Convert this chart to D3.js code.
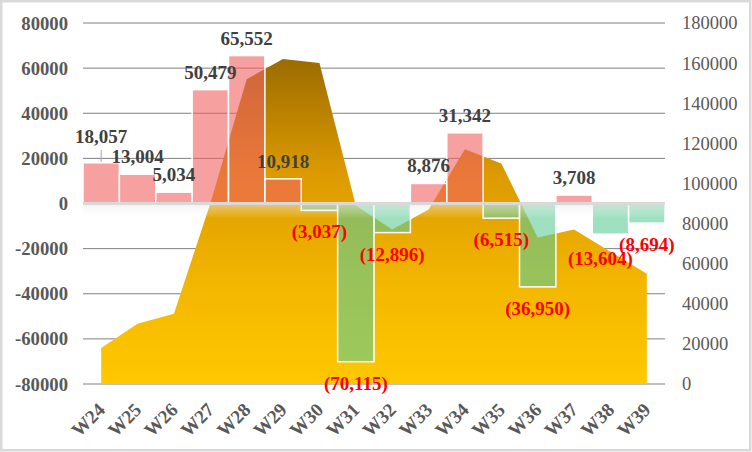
<!DOCTYPE html>
<html>
<head>
<meta charset="utf-8">
<script src="https://d3js.org/d3.v7.min.js"></script>
<style>
  body { margin: 0; background: #fff; }
  text { font-family: "Times New Roman", "Liberation Serif", serif; }
</style>
</head>
<body>
<div id="my_dataviz"></div>
<script>

// weeks on the x axis
var weeks = ["W24","W25","W26","W27","W28","W29","W30","W31","W32","W33","W34","W35","W36","W37","W38","W39"];
// weekly change (bars, left axis)
var changes = [18057, 13004, 5034, 50479, 65552, 10918, -3037, -70115, -12896, 8876, 31342, -6515, -36950, 3708, -13604, -8694];
// running total (area, right axis)
var totals = [18000, 30000, 35000, 90000, 152000, 162000, 160000, 89000, 77000, 87000, 117000, 110000, 73000, 77000, 66000, 55000];
// tick labels
var leftTicks = [-80000, -60000, -40000, -20000, 0, 20000, 40000, 60000, 80000];
var rightTicks = [0, 20000, 40000, 60000, 80000, 100000, 120000, 140000, 160000, 180000];

var W = 752, H = 452;
var margin = {top: 23, right: 87, bottom: 68, left: 83},
  width = W - margin.left - margin.right,
  height = H - margin.top - margin.bottom;

var root = d3.select("#my_dataviz")
  .append("svg")
  .attr("width", W)
  .attr("height", H);

// outer frame
root.append("rect")
  .attr("x", 1.25).attr("y", 1.25)
  .attr("width", W - 3).attr("height", H - 3)
  .attr("fill", "#fff")
  .attr("stroke", "#d9d9d9")
  .attr("stroke-width", 2.5);

var defs = root.append("defs");

// gold gradient of the area
var grad = defs.append("linearGradient")
  .attr("id", "areaGrad")
  .attr("x1", 0).attr("y1", 0).attr("x2", 0).attr("y2", 1);
grad.append("stop").attr("offset", "0%").attr("stop-color", "#9c6c00");
grad.append("stop").attr("offset", "35%").attr("stop-color", "#dc9a00");
grad.append("stop").attr("offset", "70%").attr("stop-color", "#f3b700");
grad.append("stop").attr("offset", "100%").attr("stop-color", "#ffc800");

// soft shadow under the zero line
var shade = defs.append("linearGradient")
  .attr("id", "shadeGrad")
  .attr("x1", 0).attr("y1", 0).attr("x2", 0).attr("y2", 1);
shade.append("stop").attr("offset", "0%").attr("stop-color", "#e6e6e6").attr("stop-opacity", 0.5);
shade.append("stop").attr("offset", "100%").attr("stop-color", "#ffffff").attr("stop-opacity", 0);

var svg = root.append("g")
  .attr("transform", "translate(" + margin.left + "," + margin.top + ")");

// scales
var x = d3.scaleBand()
  .domain(weeks)
  .range([0, width])
  .padding(0);

var y = d3.scaleLinear()
  .domain([-80000, 80000])
  .range([height, 0]);

var y2 = d3.scaleLinear()
  .domain([0, 180000])
  .range([height, 0]);

// gridlines (left axis)
svg.append("g")
  .selectAll("line")
  .data(leftTicks.filter(function(d) { return d != 0; }))
  .enter()
  .append("line")
  .attr("x1", 0).attr("x2", width)
  .attr("y1", function(d) { return y(d); })
  .attr("y2", function(d) { return y(d); })
  .attr("stroke", "#808080")
  .attr("stroke-width", 1);

// area
var area = d3.area()
  .x(function(d, i) { return x(weeks[i]) + x.bandwidth() / 2; })
  .y0(height)
  .y1(function(d) { return y2(d); });

svg.append("path")
  .datum(totals)
  .attr("d", area)
  .attr("fill", "url(#areaGrad)");

// bars
svg.selectAll(".bar")
  .data(changes)
  .enter()
  .append("rect")
  .attr("class", "bar")
  .attr("x", function(d, i) { return x(weeks[i]); })
  .attr("y", function(d) { return y(Math.max(0, d)); })
  .attr("width", x.bandwidth())
  .attr("height", function(d) { return Math.abs(y(d) - y(0)); })
  .attr("fill", function(d) { return d >= 0 ? "rgb(242,97,97)" : "rgb(93,203,150)"; })
  .attr("fill-opacity", 0.6)
  .attr("stroke", "#fff")
  .attr("stroke-width", 1.5);

// zero line + shadow
svg.append("rect")
  .attr("x", 0).attr("y", y(0) + 1)
  .attr("width", width).attr("height", 14)
  .attr("fill", "url(#shadeGrad)");

svg.append("line")
  .attr("x1", 0).attr("x2", width)
  .attr("y1", y(0)).attr("y2", y(0))
  .attr("stroke", "#d9d9d9")
  .attr("stroke-width", 3);

// left axis labels
svg.append("g")
  .selectAll("text")
  .data(leftTicks)
  .enter()
  .append("text")
  .attr("x", -15)
  .attr("y", function(d) { return y(d); })
  .attr("dy", "0.35em")
  .attr("text-anchor", "end")
  .attr("font-size", "18.7px")
  .attr("font-weight", "bold")
  .attr("fill", "#595959")
  .text(function(d) { return d; });

// right axis labels
svg.append("g")
  .selectAll("text")
  .data(rightTicks)
  .enter()
  .append("text")
  .attr("x", width + 17)
  .attr("y", function(d) { return y2(d); })
  .attr("dy", "0.35em")
  .attr("text-anchor", "start")
  .attr("font-size", "18.5px")
  .attr("fill", "#595959")
  .text(function(d) { return d; });

// x labels, rotated
svg.append("g")
  .selectAll("text")
  .data(weeks)
  .enter()
  .append("text")
  .attr("transform", function(d) {
    return "translate(" + (x(d) + x.bandwidth() / 2 + 5) + "," + (height + 27) + ") rotate(-45)";
  })
  .attr("text-anchor", "end")
  .attr("font-size", "19px")
  .attr("font-weight", "bold")
  .attr("fill", "#595959")
  .text(function(d) { return d; });

// data labels
var fmt = d3.format(",");
// a couple of labels were nudged in the original
var nudge = {0: [0, -9], 14: [-10, 3]};

svg.append("g")
  .selectAll("text")
  .data(changes)
  .enter()
  .append("text")
  .attr("x", function(d, i) { return x(weeks[i]) + x.bandwidth() / 2 + (nudge[i] ? nudge[i][0] : 0); })
  .attr("y", function(d, i) {
    var base = d >= 0 ? y(d) - 11 : y(d) + 28;
    return base + (nudge[i] ? nudge[i][1] : 0);
  })
  .attr("text-anchor", "middle")
  .attr("font-size", "19px")
  .attr("font-weight", "bold")
  .attr("fill", function(d) { return d >= 0 ? "#404040" : "#ff0000"; })
  .text(function(d) { return d >= 0 ? fmt(d) : "(" + fmt(-d) + ")"; });

// leader line for the moved W24 label
svg.append("line")
  .attr("x1", x(weeks[0]) + x.bandwidth() / 2)
  .attr("x2", x(weeks[0]) + x.bandwidth() / 2)
  .attr("y1", y(changes[0]) - 13)
  .attr("y2", y(changes[0]) - 1)
  .attr("stroke", "#a6a6a6")
  .attr("stroke-width", 1);

</script>
</body>
</html>
